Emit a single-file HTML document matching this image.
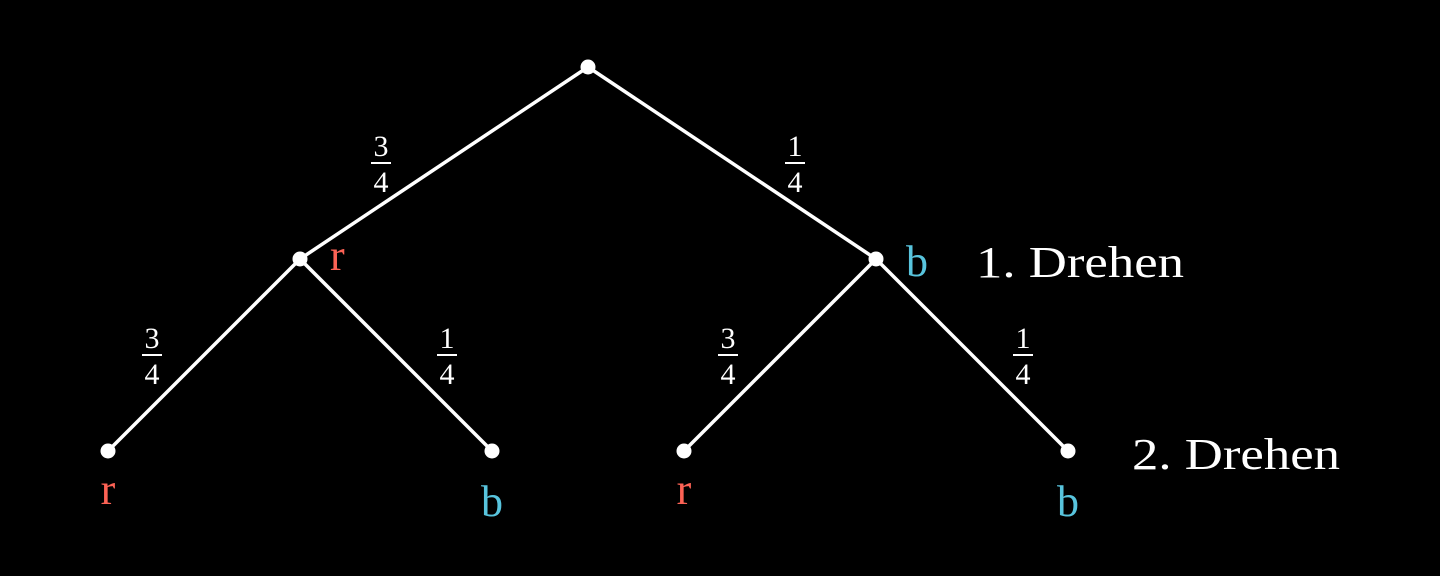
<!DOCTYPE html>
<html><head><meta charset="utf-8"><style>
html,body{margin:0;padding:0;background:#000;}
svg{display:block;}
text{font-family:"Liberation Serif",serif;}
</style></head><body>
<svg width="1440" height="576" viewBox="0 0 1440 576" xmlns="http://www.w3.org/2000/svg">
<rect width="1440" height="576" fill="#000"/>
<g stroke="#fff" stroke-width="3.5" stroke-linecap="round">
<line x1="588" y1="67" x2="300" y2="259"/>
<line x1="588" y1="67" x2="876" y2="259"/>
<line x1="300" y1="259" x2="108" y2="451"/>
<line x1="300" y1="259" x2="492" y2="451"/>
<line x1="876" y1="259" x2="684" y2="451"/>
<line x1="876" y1="259" x2="1068" y2="451"/>
</g>
<g fill="#fff">
<circle cx="588" cy="67" r="7.5"/><circle cx="300" cy="259" r="7.5"/><circle cx="876" cy="259" r="7.5"/>
<circle cx="108" cy="451" r="7.5"/><circle cx="492" cy="451" r="7.5"/><circle cx="684" cy="451" r="7.5"/><circle cx="1068" cy="451" r="7.5"/>
</g>
<g fill="#fff" font-size="30" text-anchor="middle">
<text x="381" y="156">3</text><rect x="371" y="162" width="20" height="2"/><text x="381" y="192">4</text>
<text x="795" y="156">1</text><rect x="785" y="162" width="20" height="2"/><text x="795" y="192">4</text>
<text x="152" y="348">3</text><rect x="142" y="354" width="20" height="2"/><text x="152" y="384">4</text>
<text x="447" y="348">1</text><rect x="437" y="354" width="20" height="2"/><text x="447" y="384">4</text>
<text x="728" y="348">3</text><rect x="718" y="354" width="20" height="2"/><text x="728" y="384">4</text>
<text x="1023" y="348">1</text><rect x="1013" y="354" width="20" height="2"/><text x="1023" y="384">4</text>
</g>
<g font-size="44">
<text x="330" y="270" fill="#fc6255">r</text>
<text x="906" y="276" fill="#58c4dd">b</text>
<text x="108" y="504" fill="#fc6255" text-anchor="middle">r</text>
<text x="492" y="516" fill="#58c4dd" text-anchor="middle">b</text>
<text x="684" y="504" fill="#fc6255" text-anchor="middle">r</text>
<text x="1068" y="516" fill="#58c4dd" text-anchor="middle">b</text>
<text x="976" y="277" fill="#fff" textLength="208" lengthAdjust="spacingAndGlyphs">1.  Drehen</text>
<text x="1132" y="469" fill="#fff" textLength="208" lengthAdjust="spacingAndGlyphs">2.  Drehen</text>
</g>
</svg>
</body></html>
